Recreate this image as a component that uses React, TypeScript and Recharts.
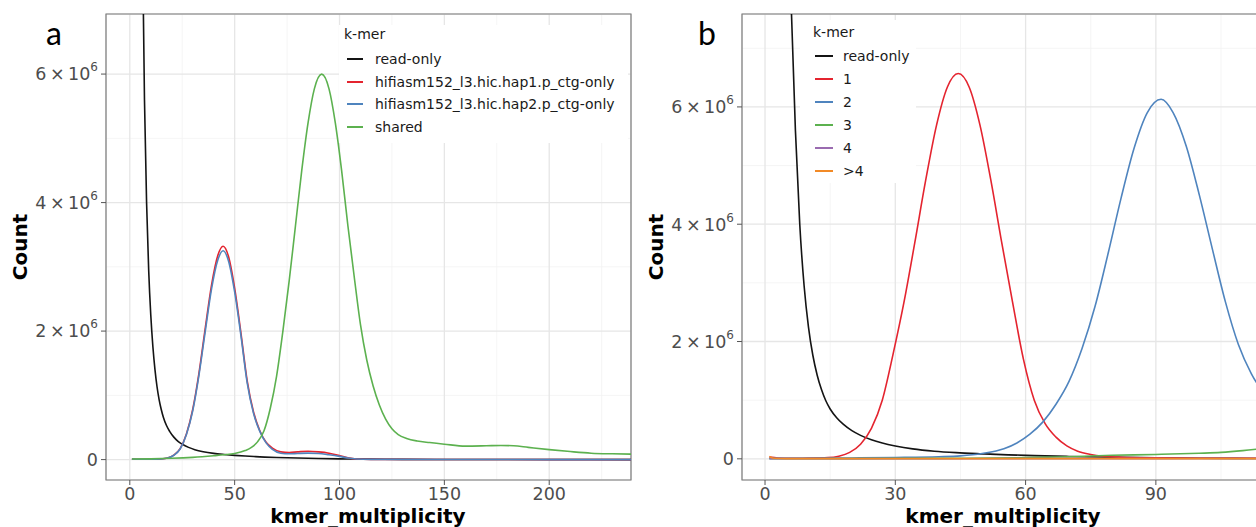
import React from 'react';
import { LineChart, Line, XAxis, YAxis, CartesianGrid, ReferenceArea } from 'recharts';

const FONT = '"DejaVu Sans", Verdana, sans-serif';

// ---- panel a : counts in millions, x = kmer multiplicity ----
const aReadX = [2, 3, 4, 5, 6, 7, 8, 9, 10, 11, 12, 13, 14, 15, 16, 17.5, 19, 21, 23, 25, 28, 31, 35, 40, 45, 50, 55, 60, 70, 80, 90, 100, 115, 130, 160, 200, 239];
const aReadY = [40, 26, 17.5, 12, 8.2, 5.6, 4.0, 2.95, 2.25, 1.76, 1.4, 1.13, 0.93, 0.78, 0.66, 0.53, 0.44, 0.35, 0.285, 0.24, 0.19, 0.155, 0.123, 0.097, 0.08, 0.066, 0.055, 0.046, 0.033, 0.024, 0.017, 0.012, 0.007, 0.004, 0.002, 0.001, 0];

const aHapX = [1, 5, 10, 15, 18, 21, 24, 27, 30, 33, 36, 39, 42, 44.5, 47, 50, 53, 56, 59, 62, 65, 68, 72, 76, 80, 85, 90, 95, 100, 104, 108, 115, 150, 239];
const aHap1Y = [0.01, 0.005, 0.005, 0.01, 0.025, 0.07, 0.17, 0.4, 0.78, 1.35, 2.05, 2.72, 3.18, 3.32, 3.17, 2.67, 1.97, 1.22, 0.74, 0.45, 0.27, 0.18, 0.12, 0.11, 0.12, 0.13, 0.12, 0.1, 0.065, 0.03, 0.01, 0.003, 0.001, 0];
const aHap2Y = [0.01, 0.005, 0.005, 0.01, 0.024, 0.068, 0.165, 0.39, 0.76, 1.32, 2.0, 2.66, 3.11, 3.25, 3.1, 2.61, 1.93, 1.19, 0.72, 0.44, 0.26, 0.16, 0.1, 0.09, 0.095, 0.1, 0.095, 0.075, 0.05, 0.025, 0.01, 0.003, 0.001, 0];

const aSharedX = [1, 10, 20, 30, 40, 45, 50, 55, 58, 61, 64, 67, 70, 73, 76, 79, 82, 85, 88, 91.5, 95, 98, 101, 104, 107, 110, 113, 116, 119, 122, 125, 128, 132, 137, 143, 150, 160, 170, 177, 183, 190, 200, 210, 220, 230, 239];
const aSharedY = [0.01, 0.012, 0.02, 0.035, 0.06, 0.075, 0.095, 0.14, 0.19, 0.28, 0.45, 0.8, 1.3, 2.0, 2.78, 3.64, 4.5, 5.24, 5.77, 6.0, 5.77, 5.24, 4.5, 3.64, 2.85, 2.1, 1.55, 1.15, 0.85, 0.63, 0.48, 0.39, 0.33, 0.29, 0.265, 0.24, 0.21, 0.215, 0.22, 0.215, 0.19, 0.155, 0.125, 0.1, 0.09, 0.085];

// ---- panel b ----
const bReadX = [2, 3, 4, 5, 6, 7, 8, 9, 10, 11, 12, 13, 14, 15, 16.5, 18, 20, 22, 24.5, 27, 30, 34, 39, 44, 50, 56, 62, 70, 80, 90, 100, 115];
const bReadY = [36, 24, 16.5, 11.2, 7.8, 5.6, 4.0, 2.95, 2.25, 1.77, 1.43, 1.18, 0.99, 0.85, 0.7, 0.59, 0.48, 0.4, 0.325, 0.27, 0.22, 0.17, 0.13, 0.105, 0.085, 0.068, 0.055, 0.04, 0.026, 0.017, 0.011, 0.006];

const b1X = [1, 3, 6, 10, 14.5, 17, 19.5, 22, 24.5, 27, 29.5, 32, 34.5, 37, 39.5, 42, 44.5, 47, 49.5, 52, 54.5, 57, 59.5, 62, 64.5, 67, 69.5, 72, 75, 78, 82, 90, 100, 115];
const b1Y = [0.03, 0.015, 0.01, 0.012, 0.02, 0.045, 0.11, 0.25, 0.52, 1.0, 1.79, 2.67, 3.69, 4.75, 5.69, 6.34, 6.57, 6.34, 5.69, 4.75, 3.69, 2.67, 1.7, 1.0, 0.6, 0.37, 0.22, 0.13, 0.075, 0.045, 0.028, 0.016, 0.011, 0.01];

const b2X = [1, 10, 20, 30, 40, 45, 50, 55, 58, 61, 64, 67, 70, 73, 76, 79, 82, 85, 88, 91.2, 94, 97, 100, 103, 106, 109, 112, 115];
const b2Y = [0.01, 0.01, 0.015, 0.022, 0.035, 0.05, 0.09, 0.17, 0.27, 0.42, 0.63, 0.93, 1.32, 1.88, 2.6, 3.5, 4.45, 5.3, 5.9, 6.13, 5.9, 5.33, 4.5, 3.58, 2.68, 1.95, 1.45, 1.1];

const b3X = [1, 20, 40, 60, 70, 80, 90, 100, 105, 110, 115];
const b3Y = [0.002, 0.003, 0.008, 0.02, 0.035, 0.06, 0.075, 0.095, 0.11, 0.14, 0.18];

const b4X = [1, 30, 60, 90, 115];
const b4Y = [0.003, 0.002, 0.003, 0.004, 0.005];

const b5X = [1, 2, 5, 30, 60, 90, 115];
const b5Y = [0.04, 0.01, 0.004, 0.003, 0.003, 0.003, 0.003];

// ticks
const aXTicks = [0, 50, 100, 150, 200];
const aXMinor = [25, 75, 125, 175, 225];
const bXTicks = [0, 30, 60, 90];
const bXMinor = [15, 45, 75, 105];
const yTicks = [0, 2, 4, 6];
const aYMinor = [1, 3, 5];
const bYMinor = [1, 3, 5, 7];

const toPts = (xs: number[], ys: number[]) => xs.map((x, i) => ({ x, y: ys[i] }));

const seriesA = [
  { name: 'read-only', color: '#141414', xs: aReadX, ys: aReadY },
  { name: 'hifiasm152_l3.hic.hap1.p_ctg-only', color: '#e4242f', xs: aHapX, ys: aHap1Y },
  { name: 'hifiasm152_l3.hic.hap2.p_ctg-only', color: '#4f84be', xs: aHapX, ys: aHap2Y },
  { name: 'shared', color: '#5cb14f', xs: aSharedX, ys: aSharedY },
];

const seriesB = [
  { name: 'read-only', color: '#141414', xs: bReadX, ys: bReadY },
  { name: '1', color: '#e4242f', xs: b1X, ys: b1Y },
  { name: '2', color: '#4f84be', xs: b2X, ys: b2Y },
  { name: '3', color: '#5cb14f', xs: b3X, ys: b3Y },
  { name: '4', color: '#9a6bb0', xs: b4X, ys: b4Y },
  { name: '>4', color: '#f28a26', xs: b5X, ys: b5Y },
];

function YTick(props: any) {
  const { x, y, payload } = props;
  const v = payload.value;
  return (
    <text x={x} y={y} textAnchor="end" fill="#4d4d4d" fontSize={17.5} fontFamily={FONT}>
      {v === 0 ? (
        <tspan dy={6.3}>0</tspan>
      ) : (
        <>
          <tspan dy={6.3}>{`${v}\u2009\u00d7\u200910`}</tspan>
          <tspan dy={-9} fontSize={12}>6</tspan>
        </>
      )}
    </text>
  );
}

function Panel(props: any) {
  const { width, yAxisWidth, xDomain, yDomain, xTicks, xMinor, yMinor, series } = props;
  return (
    <LineChart width={width} height={527} margin={{ top: 14, right: 9, left: 0, bottom: 0 }}>
      <CartesianGrid stroke="#f2f2f2" strokeWidth={0.8} horizontalValues={yMinor} verticalValues={xMinor} />
      <CartesianGrid stroke="#e6e6e6" strokeWidth={1.3} />
      <XAxis
        dataKey="x"
        type="number"
        domain={xDomain}
        allowDataOverflow
        ticks={xTicks}
        interval={0}
        height={47}
        tickSize={5}
        tickMargin={3}
        axisLine={false}
        tickLine={{ stroke: '#555' }}
        tick={{ fill: '#4d4d4d', fontSize: 17.5, fontFamily: FONT }}
      />
      <YAxis
        type="number"
        domain={yDomain}
        allowDataOverflow
        ticks={yTicks}
        interval={0}
        width={yAxisWidth}
        tickSize={5}
        tickMargin={3}
        axisLine={false}
        tickLine={{ stroke: '#555' }}
        tick={(p: any) => <YTick {...p} />}
      />
      {series.map((s: any) => (
        <Line
          key={s.name}
          data={toPts(s.xs, s.ys)}
          dataKey="y"
          type="monotone"
          stroke={s.color}
          strokeWidth={1.6}
          dot={false}
          activeDot={false}
          isAnimationActive={false}
        />
      ))}
      <ReferenceArea
        x1={xDomain[0]}
        x2={xDomain[1]}
        y1={yDomain[0]}
        y2={yDomain[1]}
        fill="none"
        fillOpacity={0}
        stroke="#7d7d7d"
        strokeWidth={1.2}
        ifOverflow="visible"
      />
    </LineChart>
  );
}

function KmerLegend(props: any) {
  const { box, titleX, titleY, keyX, keyW, labelX, rowY0, rowGap, items } = props;
  const txt: React.CSSProperties = {
    position: 'absolute',
    fontFamily: FONT,
    fontSize: 14,
    lineHeight: '16px',
    color: '#1a1a1a',
    whiteSpace: 'nowrap',
  };
  return (
    <div style={{ position: 'absolute', left: box[0], top: box[1], width: box[2], height: box[3], background: '#fff' }}>
      <div style={{ ...txt, left: titleX - box[0], top: titleY - box[1] - 8 }}>k-mer</div>
      {items.map((s: any, i: number) => {
        const cy = Math.round(rowY0 + i * rowGap - box[1]);
        return (
          <React.Fragment key={s.name}>
            <div style={{ position: 'absolute', left: keyX - box[0], top: cy - 1, width: keyW, height: 2, backgroundColor: s.color }} />
            <div style={{ ...txt, left: labelX - box[0], top: cy - 8.5 }}>{s.name}</div>
          </React.Fragment>
        );
      })}
    </div>
  );
}

const title: React.CSSProperties = {
  position: 'absolute',
  fontFamily: FONT,
  fontWeight: 'bold',
  fontSize: 20,
  lineHeight: 1,
  color: '#000',
  whiteSpace: 'nowrap',
};

const panelTag: React.CSSProperties = {
  position: 'absolute',
  top: 17,
  fontFamily: 'Lato, "Open Sans", sans-serif',
  fontSize: 32,
  lineHeight: 1,
  color: '#000',
};

export default function App() {
  return (
    <div style={{ position: 'absolute', left: 0, top: 0, width: 1256, height: 527, overflow: 'hidden', background: '#fff' }}>
      <div style={{ position: 'absolute', left: 0, top: 0 }}>
        <Panel
          width={640}
          yAxisWidth={106}
          xDomain={[-11.35, 239]}
          yDomain={[-0.3175, 6.935]}
          xTicks={aXTicks}
          xMinor={aXMinor}
          yMinor={aYMinor}
          series={seriesA}
        />
      </div>
      <div style={{ position: 'absolute', left: 640, top: 0 }}>
        <Panel
          width={633}
          yAxisWidth={102}
          xDomain={[-5.3, 114.9]}
          yDomain={[-0.361, 7.584]}
          xTicks={bXTicks}
          xMinor={bXMinor}
          yMinor={bYMinor}
          series={seriesB}
        />
      </div>

      <KmerLegend
        box={[339, 25, 289, 118]}
        titleX={344}
        titleY={34}
        keyX={347}
        keyW={16}
        labelX={375}
        rowY0={59}
        rowGap={22.7}
        items={seriesA}
      />
      <KmerLegend
        box={[800, 20, 116, 163]}
        titleX={813}
        titleY={32}
        keyX={815}
        keyW={18}
        labelX={843}
        rowY0={56}
        rowGap={23}
        items={seriesB}
      />

      <div style={{ ...title, left: 20, top: 247, transform: 'translate(-50%, -50%) rotate(-90deg)' }}>Count</div>
      <div style={{ ...title, left: 656, top: 247, transform: 'translate(-50%, -50%) rotate(-90deg)' }}>Count</div>
      <div style={{ ...title, left: 368, top: 506, transform: 'translateX(-50%)' }}>kmer_multiplicity</div>
      <div style={{ ...title, left: 1003, top: 506, transform: 'translateX(-50%)' }}>kmer_multiplicity</div>

      <div style={{ ...panelTag, left: 46 }}>a</div>
      <div style={{ ...panelTag, left: 698 }}>b</div>
    </div>
  );
}
